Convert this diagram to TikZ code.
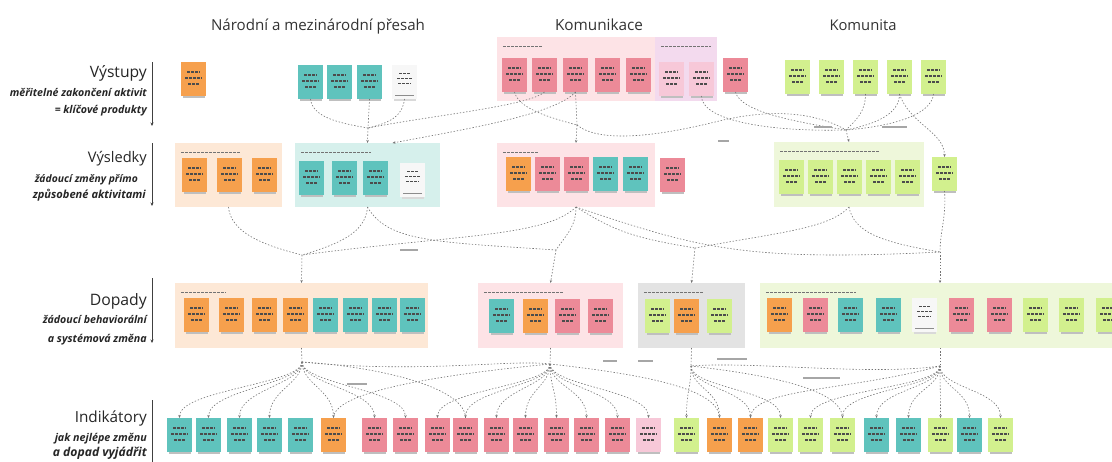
\documentclass[tikz,border=0pt]{standalone}
\usepackage{graphicx}
\usepackage{fontspec}
\setmainfont{Open Sans}
\usetikzlibrary{arrows.meta}
\definecolor{nOr}{HTML}{F6A04D}
\definecolor{nTe}{HTML}{5FC3BD}
\definecolor{nPk}{HTML}{EC8A98}
\definecolor{nLp}{HTML}{F7C8D8}
\definecolor{nGr}{HTML}{D2F08E}
\definecolor{nWh}{HTML}{F7F7F7}
\definecolor{bOr}{HTML}{FDE8D6}
\definecolor{bTe}{HTML}{D6F0EC}
\definecolor{bPk}{HTML}{FDE3E6}
\definecolor{bLv}{HTML}{F3DAEE}
\definecolor{bGr}{HTML}{EEF7DA}
\definecolor{bGy}{HTML}{E3E3E3}
\newcommand\fitw[2]{\resizebox{#1pt}{!}{#2}}
\newcommand\stk[4]{%
  \fill[black!25] (#2+1.5,#3+33.5) rectangle (#2+23.5,#3+35.5);
  \node[note,fill=#4] (#1) at (#2,#3) {};
  \draw[scribble] (#2+6,#3+10) -- ++(13,0);
  \draw[scribble] (#2+4,#3+16) -- ++(17,0);
  \draw[scribble] (#2+7,#3+22) -- ++(11,0);
}
\newcommand\stkw[3]{%
  \fill[black!15] (#2+1.5,#3+33.5) rectangle (#2+23.5,#3+35.5);
  \node[note,fill=nWh] (#1) at (#2,#3) {};
  \draw[scribble,line width=0.9pt] (#2+7,#3+8) -- ++(11,0);
  \draw[scribble,line width=0.9pt] (#2+5,#3+13) -- ++(15,0);
  \draw[scribble,line width=0.9pt] (#2+6,#3+18) -- ++(13,0);
  \draw[black!45,line width=1pt] (#2+3,#3+30) -- ++(19,0);
}
\newcommand\pnl[7]{%
  \node[panelbox,fill=#6,minimum width={(#4-#2)*1pt},minimum height={(#5-#3)*1pt}] (#1) at (#2,#3) {};
  \draw[hdr] (#2+6,#3+9) -- ++(#7,0);
}
\begin{document}
\begin{tikzpicture}[x=1pt,y=-1pt,
  note/.style={anchor=north west,minimum width=25pt,minimum height=34pt,inner sep=0pt,outer sep=0pt},
  panelbox/.style={anchor=north west,inner sep=0pt,outer sep=0pt},
  conn/.style={draw=black!55,line width=0.6pt,dash pattern=on 1.4pt off 1.8pt},
  arr/.style={-{Stealth[length=3pt,width=2.4pt]}},
  scribble/.style={draw=black!70,line width=1.3pt,dash pattern=on 3pt off 1pt},
  hdr/.style={draw=black!55,line width=0.9pt,dash pattern=on 3pt off 1pt},
  axisline/.style={draw=black!75,line width=0.6pt,-{Stealth[length=3.5pt,width=3pt]}},
  ttl/.style={font=\fontsize{15}{18}\selectfont,text=black!80,anchor=base,inner sep=0pt},
  lvl/.style={font=\fontsize{16}{19}\selectfont,text=black!85,anchor=base east,inner sep=0pt},
  sub/.style={font=\fontsize{10}{12}\selectfont\bfseries\itshape,text=black!85,anchor=base east,inner sep=0pt},
  lbl/.style={draw=black!35,line width=1.1pt}
]
\fill[white] (0,0) rectangle (1112,461);
\useasboundingbox (0,0) rectangle (1112,461);

% ---------- titles ----------
\node[ttl] (h1) at (318,30) {\fitw{214}{Národní a mezinárodní přesah}};
\node[ttl] (h2) at (599,30) {\fitw{88}{Komunikace}};
\node[ttl] (h3) at (863,30) {\fitw{67}{Komunita}};

% ---------- level labels ----------
\node[lvl] (l1) at (147,77) {\fitw{57}{Výstupy}};
\node[sub] (l1a) at (147,96) {\fitw{137}{měřitelné zakončení aktivit}};
\node[sub] (l1b) at (147,113) {\fitw{92}{= klíčové produkty}};
\coordinate (a1s) at (152,62); \coordinate (a1e) at (152,126);
\draw[axisline] (a1s) -- (a1e);

\node[lvl] (l2) at (147,162) {\fitw{59}{Výsledky}};
\node[sub] (l2a) at (138,182) {\fitw{103}{žádoucí změny přímo}};
\node[sub] (l2b) at (146,198) {\fitw{113}{způsobené aktivitami}};
\coordinate (a2s) at (152,143); \coordinate (a2e) at (152,206);
\draw[axisline] (a2s) -- (a2e);

\node[lvl] (l3) at (147,305) {\fitw{57}{Dopady}};
\node[sub] (l3a) at (147,323) {\fitw{104}{žádoucí behaviorální}};
\node[sub] (l3b) at (147,342) {\fitw{99}{a systémová změna}};
\coordinate (a3s) at (152,278); \coordinate (a3e) at (152,343);
\draw[axisline] (a3s) -- (a3e);

\node[lvl] (l4) at (147,422) {\fitw{72}{Indikátory}};
\node[sub] (l4a) at (147,441) {\fitw{92}{jak nejlépe změnu}};
\node[sub] (l4b) at (147,456) {\fitw{94}{a dopad vyjádřit}};
\coordinate (a4s) at (152,400); \coordinate (a4e) at (152,470);
\draw[axisline] (a4s) -- (a4e);

% ---------- Výstupy ----------
\stk{vO}{181}{62}{nOr}
\stk{vT1}{298}{65}{nTe}
\stk{vT2}{327}{65}{nTe}
\stk{vT3}{357}{65}{nTe}
\stkw{vW}{392}{65}
\pnl{pA}{497}{37}{655}{101}{bPk}{40}
\pnl{lA}{655}{37}{717}{101}{bLv}{50}
\stk{vP1}{502}{58}{nPk}
\stk{vP2}{532}{58}{nPk}
\stk{vP3}{563}{58}{nPk}
\stk{vP4}{595}{58}{nPk}
\stk{vP5}{626}{58}{nPk}
\stk{vL1}{659}{62}{nLp}
\stk{vL2}{689}{62}{nLp}
\stk{vPX}{723}{58}{nPk}
\stk{vG1}{785}{60}{nGr}
\stk{vG2}{819}{60}{nGr}
\stk{vG3}{853}{60}{nGr}
\stk{vG4}{887}{60}{nGr}
\stk{vG5}{921}{60}{nGr}

% ---------- Výsledky ----------
\pnl{oB}{175}{143}{282}{207}{bOr}{60}
\stk{rO1}{182}{158}{nOr}
\stk{rO2}{217}{158}{nOr}
\stk{rO3}{252}{158}{nOr}
\pnl{tB}{295}{143}{440}{207}{bTe}{70}
\stk{rT1}{299}{161}{nTe}
\stk{rT2}{332}{161}{nTe}
\stk{rT3}{363}{161}{nTe}
\stkw{rW}{400}{163}
\pnl{pB}{497}{143}{655}{207}{bPk}{35}
\stk{rP1}{506}{157}{nOr}
\stk{rP2}{535}{157}{nPk}
\stk{rP3}{564}{157}{nPk}
\stk{rP4}{593}{157}{nTe}
\stk{rP5}{623}{157}{nTe}
\stk{rPX}{660}{158}{nPk}
\pnl{gB}{774}{142}{924}{207}{bGr}{100}
\stk{rG1}{779}{160}{nGr}
\stk{rG2}{808}{160}{nGr}
\stk{rG3}{837}{160}{nGr}
\stk{rG4}{866}{160}{nGr}
\stk{rG5}{895}{160}{nGr}
\stk{rGX}{932}{157}{nGr}

% ---------- Dopady ----------
\pnl{oC}{175}{283}{428}{348}{bOr}{45}
\stk{dO1}{184}{298}{nOr}
\stk{dO2}{219}{298}{nOr}
\stk{dO3}{252}{298}{nOr}
\stk{dO4}{283}{298}{nOr}
\stk{dT1}{313}{298}{nTe}
\stk{dT2}{343}{298}{nTe}
\stk{dT3}{372}{298}{nTe}
\stk{dT4}{400}{298}{nTe}
\pnl{pC}{478}{283}{623}{348}{bPk}{80}
\stk{dP1}{489}{299}{nTe}
\stk{dP2}{523}{299}{nOr}
\stk{dP3}{555}{299}{nPk}
\stk{dP4}{588}{299}{nPk}
\pnl{grC}{638}{283}{745}{348}{bGy}{60}
\stk{dY1}{645}{299}{nGr}
\stk{dY2}{674}{299}{nOr}
\stk{dY3}{707}{299}{nGr}
\pnl{gC}{760}{283}{1120}{348}{bGr}{90}
\stk{dG1}{767}{298}{nOr}
\stk{dG2}{803}{298}{nPk}
\stk{dG3}{838}{298}{nTe}
\stk{dG4}{876}{298}{nTe}
\stkw{dG5}{912}{298}
\stk{dG6}{949}{298}{nPk}
\stk{dG7}{987}{298}{nPk}
\stk{dG8}{1023}{298}{nGr}
\stk{dG9}{1059}{298}{nGr}
\stk{dG10}{1096}{298}{nGr}

% ---------- Indikátory ----------
\stk{iT1}{167}{418}{nTe}
\stk{iT2}{196}{418}{nTe}
\stk{iT3}{227}{418}{nTe}
\stk{iT4}{257}{418}{nTe}
\stk{iT5}{288}{418}{nTe}
\stk{iO1}{321}{418}{nOr}
\stk{iP1}{362}{418}{nPk}
\stk{iP2}{393}{418}{nPk}
\stk{iP3}{425}{418}{nPk}
\stk{iP4}{453}{418}{nPk}
\stk{iP5}{484}{418}{nPk}
\stk{iP6}{513}{418}{nPk}
\stk{iP7}{544}{418}{nPk}
\stk{iP8}{574}{418}{nPk}
\stk{iP9}{605}{418}{nPk}
\stk{iL}{636}{418}{nLp}
\stk{iG1}{674}{418}{nGr}
\stk{iO2}{707}{418}{nOr}
\stk{iO3}{738}{418}{nOr}
\stk{iG2}{768}{418}{nGr}
\stk{iG3}{798}{418}{nGr}
\stk{iG4}{830}{418}{nGr}
\stk{iT6}{864}{418}{nTe}
\stk{iT7}{896}{418}{nTe}
\stk{iG5}{928}{418}{nGr}
\stk{iT8}{957}{418}{nTe}
\stk{iG6}{988}{418}{nGr}

% ---------- connectors: Výstupy -> Výsledky ----------
\coordinate (J1) at (368,128);
\draw[conn] (vT1.south) .. controls +(2,18) and +(-30,-5) .. (J1);
\draw[conn] (vT3.south) -- (J1);
\draw[conn] (vW.south) .. controls +(-2,16) and +(25,-6) .. (J1);
\draw[conn,arr] (J1) -- (tB.north);
\draw[conn] (vP2.south) .. controls +(-15,14) and +(60,-12) .. (J1);
\draw[conn,arr] (vP3.south) .. controls +(-20,22) and +(80,-15) .. ([xshift=25pt]tB.north);
\coordinate (J2) at (577,125);
\draw[conn] (vP1.south) .. controls +(4,16) and +(-30,-8) .. (J2);
\draw[conn] (vP3.south) -- (J2);
\draw[conn,arr] (J2) -- (pB.north);
\coordinate (J3) at (846,130);
\draw[conn] (J2) .. controls (598,142) and (650,138) .. (715,122) .. controls (770,108) and (815,112) .. (J3);
\draw[conn] (vPX.south) .. controls +(5,20) and +(-50,-8) .. (J3);
\draw[conn] (vL2.south) .. controls +(0,24) and +(-80,2) .. (J3);
\draw[conn] (vG3.south) .. controls +(0,18) and +(10,-10) .. (J3);
\draw[conn] (vG4.south) .. controls +(0,20) and +(30,-6) .. (J3);
\draw[conn] (vG5.south) .. controls +(-2,20) and +(50,-4) .. (J3);
\draw[conn,arr] (J3) -- (gB.north);
\draw[conn,arr] (vG4.south) .. controls +(10,30) and +(0,-25) .. (rGX.north);
\draw[lbl] (718,141) -- (729,141);
\draw[lbl] (814,127) -- (832,127);
\draw[lbl] (882,127) -- (907,127);

% ---------- connectors: Výsledky -> Dopady ----------
\coordinate (D1) at (302,255);
\draw[conn] (oB.south) .. controls +(2,25) and +(-40,-10) .. (D1);
\draw[conn] (tB.south) .. controls +(-2,25) and +(40,-12) .. (D1);
\draw[conn] (pB.south) .. controls +(-30,30) and +(150,-20) .. (D1);
\draw[conn,arr] (D1) -- (oC.north);
\coordinate (D2) at (556,250);
\draw[conn] (pB.south) .. controls +(0,20) and +(10,-15) .. (D2);
\draw[conn] (tB.south) .. controls +(20,35) and +(-120,-8) .. (D2);
\draw[conn,arr] (D2) -- (pC.north);
\coordinate (D3) at (695,248);
\draw[conn] (gB.south) .. controls +(-20,22) and +(80,-15) .. (D3);
\draw[conn] (pB.south) .. controls +(40,25) and +(-60,-10) .. (D3);
\draw[conn,arr] (D3) -- (grC.north);
\coordinate (D4) at (940,252);
\draw[conn] (rGX.south) .. controls +(2,25) and +(0,-20) .. (D4);
\draw[conn] (gB.south) .. controls +(5,25) and +(-60,-10) .. (D4);
\draw[conn] (pB.south) .. controls +(120,40) and +(-200,10) .. (D4);
\draw[conn,arr] (D4) -- (gC.north);
\draw[lbl] (400,250) -- (418,250);

% ---------- connectors: Dopady -> Indikátory ----------
\coordinate (E1) at (302,362);
\draw[conn] (oC.south) -- (E1);
\foreach \n in {iT1,iT2,iT3,iT4,iO1,iP1,iP2}
  \draw[conn,arr] (E1) .. controls +(0,22) and +(0,-28) .. (\n.north);
\coordinate (E2) at (550,364);
\draw[conn] (pC.south) -- (E2);
\foreach \n in {iP3,iP4,iP5,iP6,iP7,iP8,iP9,iL}
  \draw[conn,arr] (E2) .. controls +(0,22) and +(0,-28) .. (\n.north);
\coordinate (E3) at (691,366);
\draw[conn] (grC.south) -- (E3);
\foreach \n in {iG1,iO2,iO3,iG2}
  \draw[conn,arr] (E3) .. controls +(0,22) and +(0,-28) .. (\n.north);
\coordinate (E4) at (940,366);
\draw[conn] (gC.south) -- (E4);
\foreach \n in {iG3,iG4,iT6,iT7,iG5,iT8,iG6}
  \draw[conn,arr] (E4) .. controls +(0,22) and +(0,-28) .. (\n.north);
\draw[conn] (E1) .. controls +(80,5) and +(0,-30) .. (iP4.north);
\draw[conn] (E1) .. controls +(120,12) and +(-40,-5) .. (E2);
\draw[conn] (E2) .. controls +(-80,8) and +(0,-30) .. (iO1.north);
\draw[conn] (E2) .. controls +(90,10) and +(0,-30) .. (iO2.north);
\draw[conn] (E3) .. controls +(70,8) and +(0,-30) .. (iG4.north);
\draw[conn] (E4) .. controls +(-90,25) and +(0,-30) .. (iO3.north);
\draw[conn] (E4) .. controls +(-70,10) and +(60,-5) .. (E3);
\draw[lbl] (347,384) -- (367,384);
\draw[lbl] (603,361) -- (617,361);
\draw[lbl] (638,361) -- (653,361);
\draw[lbl] (717,359) -- (747,359);
\draw[lbl] (803,378) -- (840,378);
\end{tikzpicture}
\end{document}
